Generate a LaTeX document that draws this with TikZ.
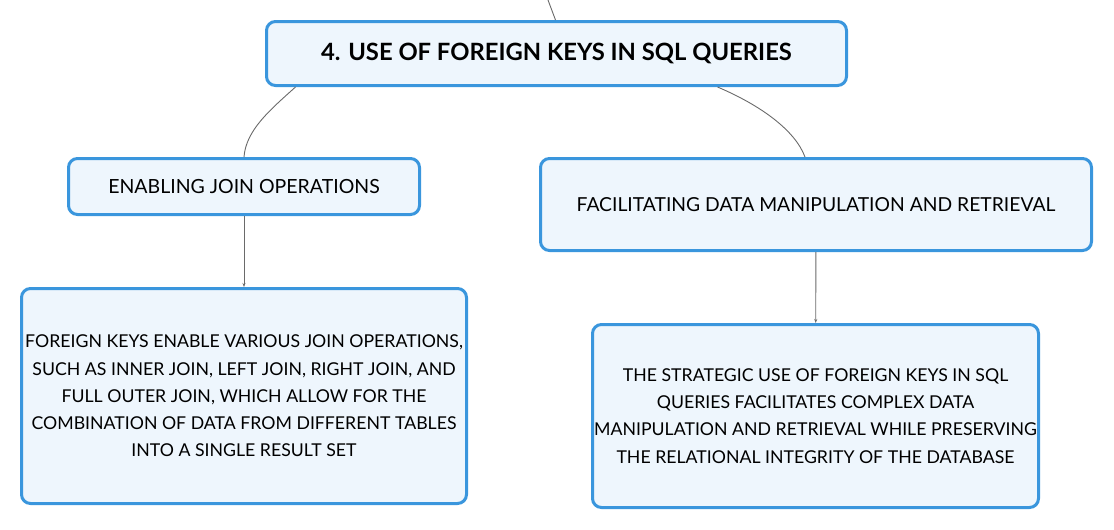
\documentclass[tikz,border=0pt]{standalone}
\usepackage{fontspec}
\setmainfont{Lato}
\usetikzlibrary{arrows.meta}
\definecolor{boxline}{HTML}{3A96DD}
\definecolor{boxfill}{HTML}{EEF6FD}
\definecolor{linkgray}{HTML}{6A6A6A}
\begin{document}
\begin{tikzpicture}
  [x=1pt,y=-1pt,
   topic/.style={shape=rectangle,rounded corners=9pt,draw=boxline,fill=boxfill,
     line width=3pt,align=center,inner sep=0pt},
   link/.style={draw=linkgray,line width=0.9pt},
   leadto/.style={link,-{Stealth[length=4pt,width=3pt]}}]
\useasboundingbox (0,0) rectangle (1114,530);
\node[topic,minimum width=580pt,minimum height=64pt,
  font=\fontsize{23.8}{28}\bfseries] (title) at (556.5,53.5)
  {4. USE OF FOREIGN KEYS IN SQL QUERIES};
\node[topic,minimum width=351pt,minimum height=56pt,
  font=\fontsize{19.5}{24}\selectfont] (join) at (244,186.5)
  {ENABLING JOIN OPERATIONS};
\node[topic,minimum width=551pt,minimum height=92pt,
  font=\fontsize{19.3}{24}\selectfont] (manip) at (816,204.5)
  {FACILITATING DATA MANIPULATION AND RETRIEVAL};
\node[topic,minimum width=445pt,minimum height=215pt,
  font=\fontsize{17.7}{27.2}\selectfont] (joinleaf) at (244,396)
  {FOREIGN KEYS ENABLE VARIOUS JOIN OPERATIONS,\\
   SUCH AS INNER JOIN, LEFT JOIN, RIGHT JOIN, AND\\
   FULL OUTER JOIN, WHICH ALLOW FOR THE\\
   COMBINATION OF DATA FROM DIFFERENT TABLES\\
   INTO A SINGLE RESULT SET};
\node[topic,minimum width=446pt,minimum height=183pt,
  font=\fontsize{17.7}{27.2}\selectfont] (manipleaf) at (815.5,416)
  {THE STRATEGIC USE OF FOREIGN KEYS IN SQL\\
   QUERIES FACILITATES COMPLEX DATA\\
   MANIPULATION AND RETRIEVAL WHILE PRESERVING\\
   THE RELATIONAL INTEGRITY OF THE DATABASE};
\coordinate (parent) at (548,0);
% links
\draw[link] (parent) -- ([xshift=-1pt]title.north);
\draw[link] ([xshift=-261pt]title.south) .. controls (270,110) and (246,130) .. (join.north);
\draw[link] ([xshift=161pt]title.south) .. controls (760,105) and (795,130) .. ([xshift=-11pt]manip.north);
\draw[leadto] (join) -- (joinleaf);
\draw[leadto] (manip) -- (manipleaf);
\end{tikzpicture}
\end{document}
